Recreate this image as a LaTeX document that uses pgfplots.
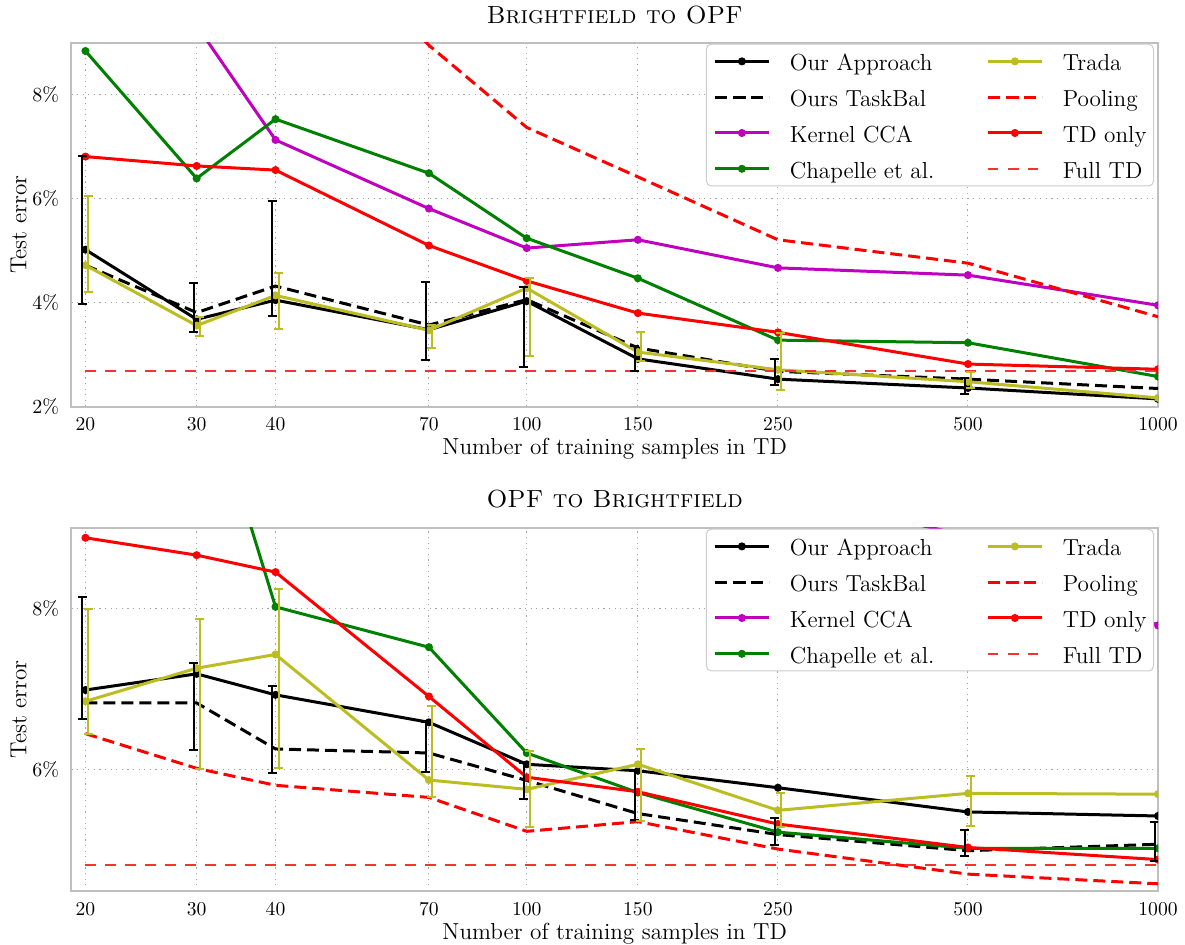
\documentclass[border=0pt]{standalone}
\usepackage{pgfplots}
\pgfplotsset{compat=1.18}
\definecolor{cMag}{RGB}{191,0,191}
\definecolor{cGreen}{RGB}{0,128,0}
\definecolor{cOlive}{RGB}{188,189,34}
\definecolor{cRed}{RGB}{255,0,0}
\definecolor{cAxis}{RGB}{191,191,191}
\definecolor{cGrid}{RGB}{165,165,165}
\definecolor{cFull}{RGB}{245,50,50}
\newcommand{\lst}{\rule[-3pt]{0pt}{14pt}}
\pgfplotsset{
  legend image code/.code={\draw[mark repeat=2,mark phase=2,#1] plot coordinates {(0pt,0pt) (13.5pt,0pt) (27pt,0pt)};},
  ourS/.style={black, line width=1.5pt, mark=*, mark size=1.75pt, mark options={solid, line width=0.5pt}},
  taskS/.style={black, line width=1.5pt, dash pattern=on 6pt off 3pt, mark=none},
  kccaS/.style={cMag, line width=1.5pt, mark=*, mark size=1.75pt, mark options={solid, line width=0.5pt}},
  chapS/.style={cGreen, line width=1.5pt, mark=*, mark size=1.75pt, mark options={solid, line width=0.5pt}},
  tradaS/.style={cOlive, line width=1.5pt, mark=*, mark size=1.75pt, mark options={solid, line width=0.5pt}},
  poolS/.style={cRed, line width=1.5pt, dash pattern=on 6pt off 3pt, mark=none},
  tdS/.style={cRed, line width=1.5pt, mark=*, mark size=1.75pt, mark options={solid, line width=0.5pt}},
  fullS/.style={draw=cFull, color=cFull, line width=0.85pt, dash pattern=on 5.2pt off 4.8pt, mark=none},
}
\begin{document}
\begin{tikzpicture}
\useasboundingbox (-35.7pt,-451.15pt) rectangle (556.8pt,21.35pt);
% ================= TOP =================
\begin{axis}[at={(0,0)}, anchor=north west,
    scale only axis, width=543.3pt, height=182pt,
    xmode=log, xmin=19, xmax=1000,
    ymin=2, ymax=9, ytick={2,4,6,8}, yticklabels={$2\%$,$4\%$,$6\%$,$8\%$},
    xtick={20,30,40,70,100,150,250,500,1000},
    xticklabels={20,30,40,70,100,150,250,500,1000},
    xminorticks=false, yminorticks=false,
    major tick length=0pt,
    grid=major,
    major grid style={cGrid, line width=0.5pt, dash pattern=on 0.6pt off 2.2pt},
    axis line style={cAxis, line width=1pt},
    tick label style={font=\fontsize{9.8}{11}\selectfont},
    xticklabel style={anchor=base, yshift=-12.15pt},
    yticklabel style={anchor=east, xshift=-2.6pt},
    label style={font=\fontsize{11.6}{13}\selectfont},
    xlabel={Number of training samples in TD},
    ylabel={Test error},
    xlabel style={at={(axis description cs:0.5,0)}, anchor=base, yshift=-24.1pt},
    ylabel style={at={(axis description cs:-0.04868,0.5)}, anchor=center},
    title={\textsc{Brightfield to OPF}},
    title style={font=\fontsize{12.4}{14}\selectfont, at={(axis description cs:0.5,1)}, anchor=base, yshift=3.7pt},
    clip marker paths=true,
    legend columns=2,
    legend cell align=left,
    legend style={at={(1,1)}, anchor=north east, xshift=-2pt, yshift=-0.5pt,
      draw=cAxis!80, line width=0.5pt, rounded corners=2.5pt, fill=white,
      inner xsep=3.5pt, inner ysep=2.35pt,
      font=\fontsize{11.6}{13}\selectfont,
      nodes={inner sep=0pt}, row sep=5.4pt,
      /tikz/every odd column/.append style={column sep=9.75pt},
      /tikz/every even column/.append style={column sep=26pt}},
  ]
\addlegendimage{ourS}\addlegendentry{\lst Our Approach}
\addlegendimage{tradaS}\addlegendentry{\lst Trada}
\addlegendimage{taskS}\addlegendentry{\lst Ours TaskBal}
\addlegendimage{poolS}\addlegendentry{\lst Pooling}
\addlegendimage{kccaS}\addlegendentry{\lst Kernel CCA}
\addlegendimage{tdS}\addlegendentry{\lst TD only}
\addlegendimage{chapS}\addlegendentry{\lst Chapelle et al.}
\addlegendimage{fullS}\addlegendentry{\lst Full TD}
\addplot[ourS, forget plot] table {
x y
20 5.02
30 3.68
40 4.05
70 3.48
100 4.03
150 2.92
250 2.53
500 2.36
1000 2.15
};
\addplot[taskS, forget plot] table {
x y
20 4.72
30 3.81
40 4.32
70 3.57
100 4.06
150 3.13
250 2.68
500 2.53
1000 2.35
};
\addplot[kccaS, forget plot] table {
x y
20 11.0
30 9.33
40 7.13
70 5.81
100 5.05
150 5.21
250 4.67
500 4.53
1000 3.95
};
\addplot[chapS, forget plot] table {
x y
20 8.84
30 6.39
40 7.53
70 6.49
100 5.24
150 4.47
250 3.28
500 3.23
1000 2.58
};
\addplot[tradaS, forget plot] table {
x y
20 4.72
30 3.56
40 4.14
70 3.47
100 4.28
150 3.05
250 2.71
500 2.48
1000 2.17
};
\addplot[poolS, forget plot] table {
x y
20 14
30 13
40 12
70 8.95
100 7.37
150 6.42
250 5.21
500 4.76
1000 3.73
};
\addplot[tdS, forget plot] table {
x y
20 6.81
30 6.63
40 6.55
70 5.10
100 4.42
150 3.80
250 3.43
500 2.82
1000 2.72
};
\addplot[fullS, forget plot] table {
x y
20 2.68
1000 2.68
};
\addplot[draw=none, mark=none, forget plot,
  error bars/y dir=both, error bars/y explicit,
  error bars/error bar style={draw=black, line width=1pt, solid},
  error bars/error mark options={draw=black, line width=1pt, mark size=2.25pt, rotate=90}]
  table[x=x, y=y, y error=e] {
x y e
19.78 5.395 1.425
29.67 3.91 0.47
39.56 4.85 1.11
69.23 3.65 0.75
98.9 3.54 0.77
148.35 2.925 0.235
247.25 2.665 0.245
494.5 2.40 0.15
};
\addplot[draw=none, mark=none, forget plot,
  error bars/y dir=both, error bars/y explicit,
  error bars/error bar style={draw=cOlive, line width=1pt, solid},
  error bars/error mark options={draw=cOlive, line width=1pt, mark size=2.25pt, rotate=90}]
  table[x=x, y=y, y error=e] {
x y e
20.22 5.125 0.925
30.33 3.54 0.19
40.44 4.03 0.54
70.77 3.35 0.22
101.1 3.725 0.755
151.65 3.155 0.285
252.75 2.87 0.54
505.5 2.515 0.155
};
\end{axis}
% ================= BOTTOM =================
\begin{axis}[at={(0,-242.5pt)}, anchor=north west,
    scale only axis, width=543.3pt, height=181.7pt,
    xmode=log, xmin=19, xmax=1000,
    ymin=4.5, ymax=9, ytick={6,8}, yticklabels={$6\%$,$8\%$},
    xtick={20,30,40,70,100,150,250,500,1000},
    xticklabels={20,30,40,70,100,150,250,500,1000},
    xminorticks=false, yminorticks=false,
    major tick length=0pt,
    grid=major,
    major grid style={cGrid, line width=0.5pt, dash pattern=on 0.6pt off 2.2pt},
    axis line style={cAxis, line width=1pt},
    tick label style={font=\fontsize{9.8}{11}\selectfont},
    xticklabel style={anchor=base, yshift=-12.15pt},
    yticklabel style={anchor=east, xshift=-2.6pt},
    label style={font=\fontsize{11.6}{13}\selectfont},
    xlabel={Number of training samples in TD},
    ylabel={Test error},
    xlabel style={at={(axis description cs:0.5,0)}, anchor=base, yshift=-24.1pt},
    ylabel style={at={(axis description cs:-0.04868,0.5)}, anchor=center},
    title={\textsc{OPF to Brightfield}},
    title style={font=\fontsize{12.4}{14}\selectfont, at={(axis description cs:0.5,1)}, anchor=base, yshift=3.9pt},
    clip marker paths=true,
    legend columns=2,
    legend cell align=left,
    legend style={at={(1,1)}, anchor=north east, xshift=-2pt, yshift=-0.5pt,
      draw=cAxis!80, line width=0.5pt, rounded corners=2.5pt, fill=white,
      inner xsep=3.5pt, inner ysep=2.35pt,
      font=\fontsize{11.6}{13}\selectfont,
      nodes={inner sep=0pt}, row sep=5.4pt,
      /tikz/every odd column/.append style={column sep=9.75pt},
      /tikz/every even column/.append style={column sep=26pt}},
  ]
\addlegendimage{ourS}\addlegendentry{\lst Our Approach}
\addlegendimage{tradaS}\addlegendentry{\lst Trada}
\addlegendimage{taskS}\addlegendentry{\lst Ours TaskBal}
\addlegendimage{poolS}\addlegendentry{\lst Pooling}
\addlegendimage{kccaS}\addlegendentry{\lst Kernel CCA}
\addlegendimage{tdS}\addlegendentry{\lst TD only}
\addlegendimage{chapS}\addlegendentry{\lst Chapelle et al.}
\addlegendimage{fullS}\addlegendentry{\lst Full TD}
\addplot[ourS, forget plot] table {
x y
20 6.99
30 7.19
40 6.93
70 6.59
100 6.07
150 5.99
250 5.78
500 5.48
1000 5.43
};
\addplot[taskS, forget plot] table {
x y
20 6.83
30 6.83
40 6.26
70 6.21
100 5.87
150 5.46
250 5.20
500 5.00
1000 5.08
};
\addplot[kccaS, forget plot] table {
x y
20 12.5
30 12
40 11.5
70 11
100 10.5
150 10
250 9.42
500 8.90
1000 7.79
};
\addplot[chapS, forget plot] table {
x y
20 13.5
30 11.2
40 8.02
70 7.52
100 6.21
150 5.72
250 5.23
500 5.03
1000 5.03
};
\addplot[tradaS, forget plot] table {
x y
20 6.85
30 7.26
40 7.43
70 5.875
100 5.76
150 6.07
250 5.50
500 5.71
1000 5.70
};
\addplot[poolS, forget plot] table {
x y
20 6.45
30 6.02
40 5.81
70 5.66
100 5.24
150 5.36
250 5.02
500 4.71
1000 4.59
};
\addplot[tdS, forget plot] table {
x y
20 8.875
30 8.66
40 8.45
70 6.91
100 5.91
150 5.73
250 5.33
500 5.04
1000 4.89
};
\addplot[fullS, forget plot] table {
x y
20 4.82
1000 4.82
};
\addplot[draw=none, mark=none, forget plot,
  error bars/y dir=both, error bars/y explicit,
  error bars/error bar style={draw=black, line width=1pt, solid},
  error bars/error mark options={draw=black, line width=1pt, mark size=2.25pt, rotate=90}]
  table[x=x, y=y, y error=e] {
x y e
19.78 7.385 0.755
29.67 6.79 0.54
39.56 6.50 0.54
69.23 6.285 0.305
98.9 5.865 0.225
148.35 5.69 0.31
247.25 5.24 0.17
494.5 5.10 0.16
989 5.11 0.24
};
\addplot[draw=none, mark=none, forget plot,
  error bars/y dir=both, error bars/y explicit,
  error bars/error bar style={draw=cOlive, line width=1pt, solid},
  error bars/error mark options={draw=cOlive, line width=1pt, mark size=2.25pt, rotate=90}]
  table[x=x, y=y, y error=e] {
x y e
20.22 7.22 0.77
30.33 6.94 0.93
40.44 7.135 1.105
70.77 6.23 0.56
101.1 5.76 0.47
151.65 5.815 0.445
252.75 5.505 0.215
505.5 5.615 0.315
};
\end{axis}
\end{tikzpicture}
\end{document}
